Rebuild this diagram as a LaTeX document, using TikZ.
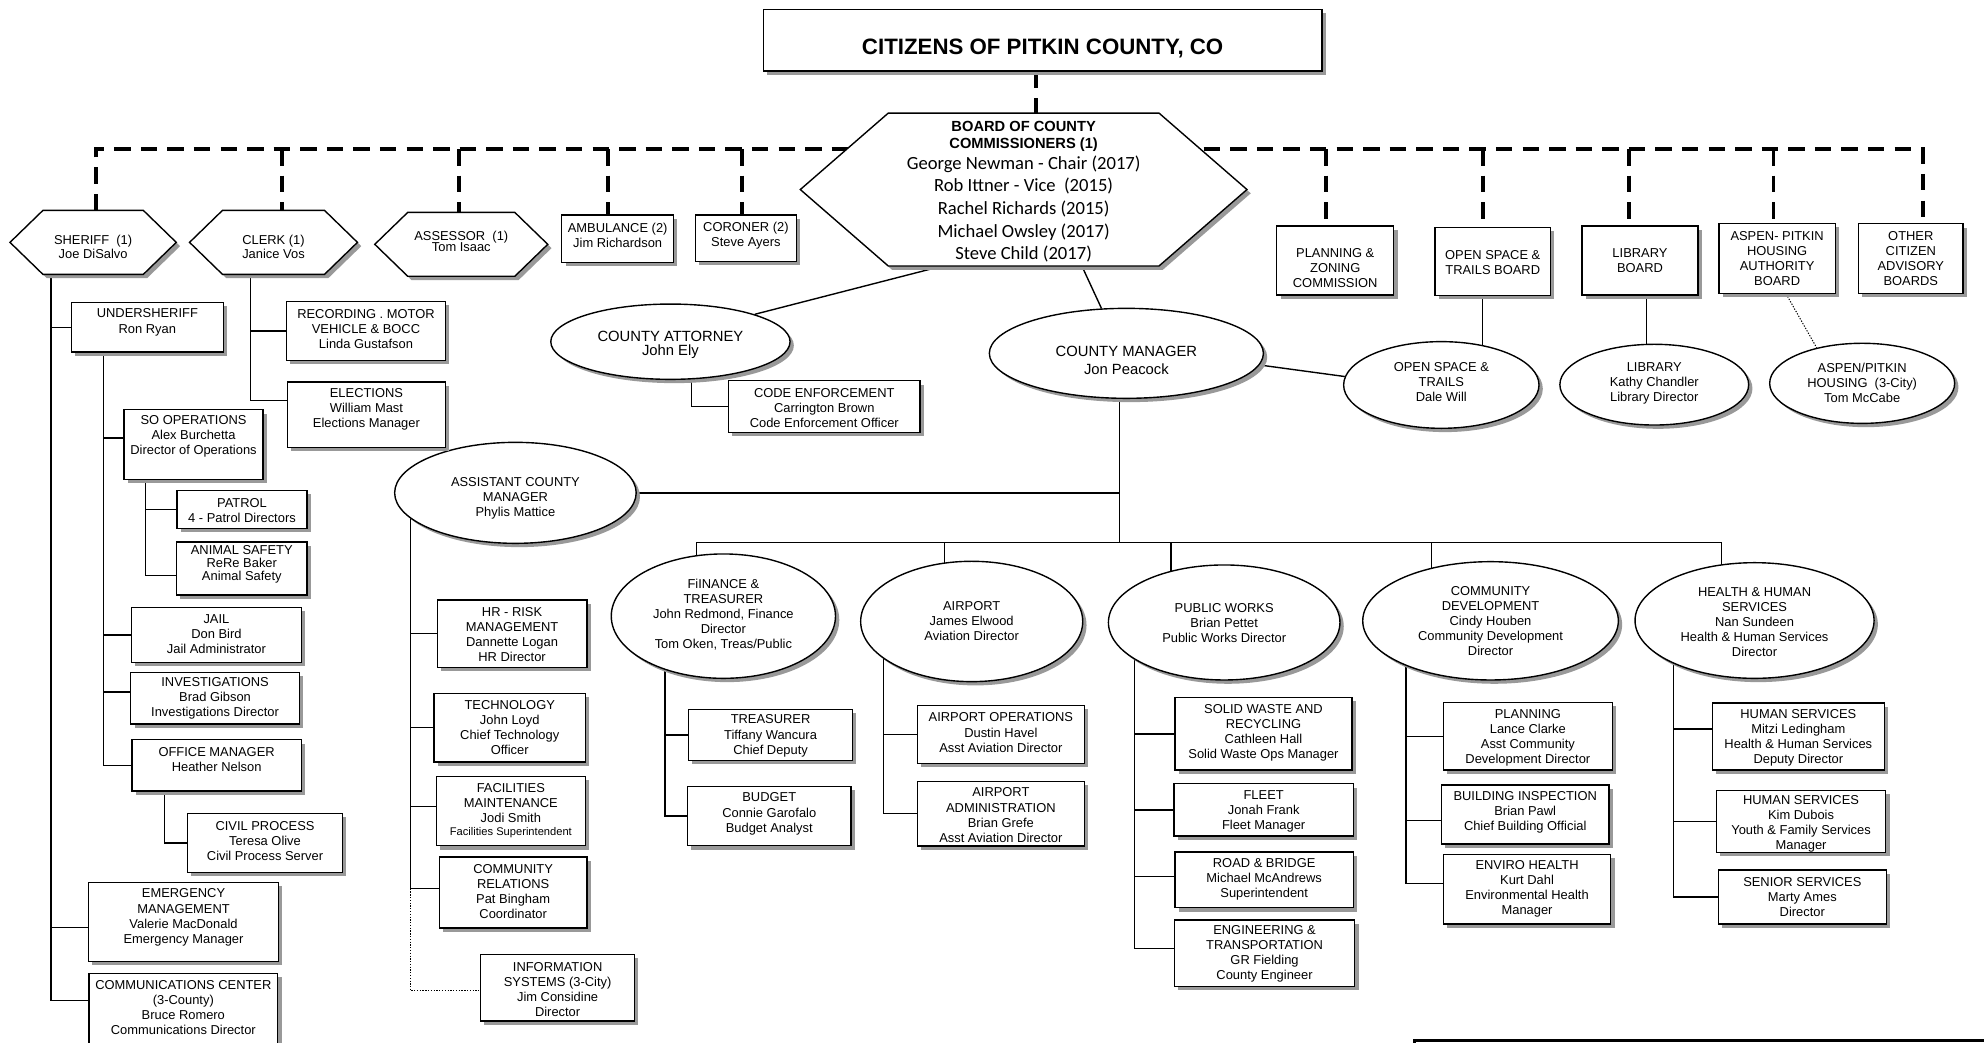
\documentclass[tikz,border=0pt]{standalone}
\usepackage{fontspec}
\setmainfont{Liberation Sans}
\newfontfamily\carlito{Carlito}
\usetikzlibrary{shapes.geometric,shadows}
\pgfdeclarelayer{bg}
\pgfdeclarelayer{hexes}
\pgfsetlayers{bg,hexes,main}

\newcommand\onode[9][]{%
 \pgfmathsetmacro\obw{#5-#3}\pgfmathsetmacro\obh{#6-#4}%
 \pgfmathsetmacro\obcx{(#3+#5)/2}\pgfmathsetmacro\obcy{(#4+#6)/2}%
 \pgfmathsetmacro\obdy{\obcy-#7-#8}%
 \node[#1,minimum width=\obw pt,minimum height=\obh pt] (#2) at (\obcx,\obcy)
  {\makebox[0pt]{\raisebox{\obdy pt}[0pt][0pt]{\parbox{400pt}{\centering\lineskiplimit=-20pt\relax #9\par}}}};}

\newcommand\ohex[8][]{%
 \onode[hexn,#1]{#2}{#3}{#4}{#5}{#6}{#7}{3.6}{#8}%
 \begin{pgfonlayer}{hexes}
 \draw[hexd] (#2.west) -- ([xshift=26pt]#2.north west) -- ([xshift=-26pt]#2.north east) -- (#2.east)
   -- ([xshift=-26pt]#2.south east) -- ([xshift=26pt]#2.south west) -- cycle;
 \end{pgfonlayer}}

\begin{document}
\begin{tikzpicture}[x=1pt,y=-1pt,
 shad/.style={drop shadow={shadow xshift=3pt,shadow yshift=-3pt,fill=black!40,opacity=1}},
 box/.style={rectangle,draw,fill=white,line width=1.1pt,inner sep=0pt,font={\fontsize{10.2}{12}\selectfont},shad},
 bs/.style={font={\fontsize{10.2}{#1}\selectfont}},
 ell/.style={box,ellipse},
 hexn/.style={rectangle,inner sep=0pt,font={\fontsize{10.2}{12}\selectfont}},
 hexd/.style={draw,fill=white,line width=1.1pt,shad},
 conn/.style={line width=1.1pt},
 dsh/.style={line width=3pt,dash pattern=on 13pt off 8pt},
 dotl/.style={line width=0.8pt,dash pattern=on 1pt off 1.2pt}]
\useasboundingbox (0,0) rectangle (1568,824);
\begin{pgfonlayer}{bg}
\fill[white] (0,0) rectangle (1568,824);
\end{pgfonlayer}

% ---------- top ----------
\onode[box,font={\fontsize{17.6}{21}\selectfont\bfseries}]{title}{603.2}{7.4}{1044.8}{56.1}{36.9}{5.7}{CITIZENS OF PITKIN COUNTY, CO}

\node[hexn,minimum width=352.6pt,minimum height=120.4pt,font={\fontsize{11.6}{13.7}\selectfont}] (bocc) at (809,149.8)
 {\makebox[0pt]{\raisebox{-4.7pt}[0pt][0pt]{\parbox{400pt}{\centering\lineskiplimit=-20pt\relax
 \bfseries BOARD OF COUNTY\\COMMISSIONERS (1)\par\vspace{-1.5pt}
 \carlito\mdseries\fontsize{14.7}{17.8}\selectfont George Newman - Chair (2017)\\Rob Ittner - Vice\ \ (2015)\\Rachel Richards (2015)\\Michael Owsley (2017)\\Steve Child (2017)\par}}}};
\begin{pgfonlayer}{hexes}
\draw[hexd] (bocc.west) -- ([xshift=69.5pt]bocc.north west) -- ([xshift=-69.5pt]bocc.north east) -- (bocc.east)
  -- ([xshift=-69.5pt]bocc.south east) -- ([xshift=69.5pt]bocc.south west) -- cycle;
\end{pgfonlayer}

\ohex[bs=11.3]{sheriff}{8.1}{166.5}{139.1}{216.6}{194.05}{SHERIFF\ \ (1)\\Joe DiSalvo}
\ohex[bs=11.3]{clerk}{150}{166.5}{282.3}{216.6}{193.75}{CLERK (1)\\Janice Vos}
\ohex[bs=8.7]{assessor}{296.4}{168.1}{432.7}{218.1}{190.05}{ASSESSOR\ \ (1)\\Tom Isaac}
\onode[box,bs=11.5]{amb}{444}{169.9}{532.3}{207.3}{184.95}{3.6}{AMBULANCE (2)\\Jim Richardson}
\onode[box,bs=11.5]{cor}{549.6}{169.9}{629.4}{206.8}{184.95}{3.6}{CORONER (2)\\Steve Ayers}

\onode[box,bs=11.85]{pz}{1009}{178.6}{1101.5}{233.1}{210.75}{3.6}{PLANNING \&\\ZONING\\COMMISSION}
\onode[box,bs=11.6]{osb}{1134}{179.7}{1225.5}{233.7}{206.5}{3.6}{OPEN SPACE \&\\TRAILS BOARD}
\onode[box,bs=11.9]{libb}{1250.2}{178.6}{1342}{233.1}{204.85}{3.6}{LIBRARY\\BOARD}
\onode[box,bs=11.8]{hab}{1358.6}{176.5}{1450.4}{231.8}{202.95}{3.6}{ASPEN- PITKIN\\HOUSING\\AUTHORITY\\BOARD}
\onode[box,bs=11.8]{other}{1468.9}{176.8}{1551.4}{231.8}{202.95}{3.6}{OTHER\\CITIZEN\\ADVISORY\\BOARDS}

% ---------- ellipses ----------
\onode[ell,font={\fontsize{11.7}{11.1}\selectfont}]{ca}{435.3}{240.3}{624.4}{299.8}{271.85}{4}{COUNTY ATTORNEY\\John Ely}
\onode[ell,font={\fontsize{11.7}{13.7}\selectfont}]{cm}{781.9}{243.7}{998.5}{314.8}{283.95}{4}{COUNTY MANAGER\\Jon Peacock}
\onode[ell,bs=11.85]{os}{1061.9}{270}{1216.3}{338.5}{300.85}{3.6}{OPEN SPACE \&\\TRAILS\\Dale Will}
\onode[ell,bs=11.85]{lib}{1232.8}{272.1}{1382}{335.9}{301.65}{3.6}{LIBRARY\\Kathy Chandler\\Library Director}
\onode[ell,bs=11.85]{hous}{1398.6}{271.3}{1544.8}{334.6}{301.65}{3.6}{ASPEN/PITKIN\\HOUSING\ \ (3-City)\\Tom McCabe}
\onode[ell,bs=11.85]{acm}{311.9}{349.6}{502.8}{429.4}{393.05}{3.6}{ASSISTANT COUNTY\\MANAGER\\Phylis Mattice}
\onode[ell,bs=11.85]{fin}{483.1}{437.8}{660.3}{536.1}{484.7}{3.6}{FiINANCE \&\\TREASURER\\John Redmond, Finance\\Director\\Tom Oken, Treas/Public}
\onode[ell,bs=12]{air}{680.2}{443.6}{855.7}{538.7}{489.6}{3.6}{AIRPORT\\James Elwood\\Aviation Director}
\onode[ell,bs=11.85]{pw}{876}{446.5}{1059}{537.4}{491.05}{3.6}{PUBLIC WORKS\\Brian Pettet\\Public Works Director}
\onode[ell,bs=11.9]{cd}{1077}{443.9}{1279}{537.4}{489.65}{3.6}{COMMUNITY\\DEVELOPMENT\\Cindy Houben\\Community Development\\Director}
\onode[ell,bs=11.9]{hhs}{1292.2}{444.7}{1481.1}{536.1}{490.55}{3.6}{HEALTH \& HUMAN\\SERVICES\\Nan Sundeen\\Health \& Human Services\\Director}

% ---------- sheriff / clerk ----------
\onode[box]{usher}{56.4}{239.2}{176.5}{278.2}{253.7}{3.6}{UNDERSHERIFF\\Ron Ryan}
\onode[box,bs=11.85]{rec}{226.3}{238.4}{352.2}{284.8}{258.95}{3.6}{RECORDING . MOTOR\\VEHICLE \& BOCC\\Linda Gustafson}
\onode[box,bs=11.85]{elec}{227}{301.9}{352.2}{353.5}{322.15}{3.6}{ELECTIONS\\William Mast\\Elections Manager}
\onode[box,bs=11.85]{soops}{98}{323.8}{207.9}{378.8}{344.05}{3.6}{SO OPERATIONS\\Alex Burchetta\\Director of Operations}
\onode[box,bs=11.8]{patrol}{139.9}{387.8}{242.6}{417.8}{402.1}{3.6}{PATROL\\4 - Patrol Directors}
\onode[box,bs=10.4]{animal}{139.6}{428.4}{242.6}{470.2}{445.1}{3.6}{ANIMAL SAFETY\\ReRe Baker\\Animal Safety}
\onode[box,bs=11.7]{jail}{104}{480}{238.1}{523.5}{499.9}{3.6}{JAIL\\Don Bird\\Jail Administrator}
\onode[box,bs=11.85]{inv}{103.3}{531.6}{236.6}{572.2}{551.15}{3.6}{INVESTIGATIONS\\Brad Gibson\\Investigations Director}
\onode[box]{office}{104.3}{584.6}{238.1}{625.2}{599.05}{3.6}{OFFICE MANAGER\\Heather Nelson}
\onode[box,bs=11.85]{civil}{148.3}{643}{270.6}{689.4}{663.35}{3.6}{CIVIL PROCESS\\Teresa Olive\\Civil Process Server}
\onode[box,bs=11.97]{emerg}{70.1}{697.3}{220}{760}{723.95}{3.6}{EMERGENCY\\MANAGEMENT\\Valerie MacDonald\\Emergency Manager}
\onode[box,bs=11.83]{comm}{70.3}{769.3}{219.5}{830}{794.95}{3.6}{COMMUNICATIONS CENTER\\(3-County)\\Bruce Romero\\Communications Director}

% ---------- attorney / ACM ----------
\onode[box,bs=11.85]{code}{575.7}{300.9}{727.2}{341.7}{321.45}{3.6}{CODE ENFORCEMENT\\Carrington Brown\\Code Enforcement Officer}
\onode[box,bs=11.87]{hr}{345.6}{474.2}{463.8}{527.4}{500.4}{3.6}{HR - RISK\\MANAGEMENT\\Dannette Logan\\HR Director}
\onode[box,bs=11.83]{tech}{343}{548}{462.7}{602.2}{573.65}{3.6}{TECHNOLOGY\\John Loyd\\Chief Technology\\Officer}
\onode[box,bs=11.9]{fac}{344.8}{613.8}{462.7}{668.4}{639.65}{3.6}{FACILITIES\\MAINTENANCE\\Jodi Smith\\[-1.1pt]{\fontsize{8.8}{10}\selectfont Facilities Superintendent}}
\onode[box,bs=11.87]{cr}{347.2}{677.3}{463.9}{733.4}{703.5}{3.6}{COMMUNITY\\RELATIONS\\Pat Bingham\\Coordinator}
\onode[box,bs=11.97]{info}{379.9}{754.5}{501.5}{807}{780.85}{3.6}{INFORMATION\\SYSTEMS (3-City)\\Jim Considine\\Director}

% ---------- departments ----------
\onode[box,bs=12]{treas}{544.1}{560.6}{673.9}{600.9}{580.5}{3.6}{TREASURER\\Tiffany Wancura\\Chief Deputy}
\onode[box]{budget}{543.2}{621.4}{672.7}{668.4}{642.1}{3.6}{BUDGET\\Connie Garofalo\\Budget Analyst}
\onode[box,bs=11.95]{airops}{725}{557.7}{857}{603.3}{577.85}{3.6}{AIRPORT OPERATIONS\\Dustin Havel\\Asst Aviation Director}
\onode[box,bs=11.93]{airadm}{725}{617.5}{857}{668.6}{643.1}{3.6}{AIRPORT\\ADMINISTRATION\\Brian Grefe\\Asst Aviation Director}
\onode[box,bs=11.83]{sw}{928.6}{551.4}{1068.5}{608.6}{577.85}{3.6}{SOLID WASTE AND\\RECYCLING\\Cathleen Hall\\Solid Waste Ops Manager}
\onode[box,bs=11.9]{fleet}{927.8}{619.4}{1069.6}{660.7}{639.9}{3.6}{FLEET\\Jonah Frank\\Fleet Manager}
\onode[box,bs=11.85]{rb}{928.6}{673.4}{1069.6}{717.4}{693.65}{3.6}{ROAD \& BRIDGE\\Michael McAndrews\\Superintendent}
\onode[box,bs=11.93]{et}{928.1}{727.1}{1070.7}{779.8}{752.9}{3.6}{ENGINEERING \&\\TRANSPORTATION\\GR Fielding\\County Engineer}
\onode[box,bs=12]{plan}{1140.7}{555.3}{1274.3}{608.6}{581.85}{3.6}{PLANNING\\Lance Clarke\\Asst Community\\Development Director}
\onode[box,bs=11.9]{bldg}{1139.1}{620.4}{1271.7}{667}{640.7}{3.6}{BUILDING INSPECTION\\Brian Pawl\\Chief Building Official}
\onode[box,bs=11.93]{env}{1140.7}{675.2}{1273}{730.3}{701.5}{3.6}{ENVIRO HEALTH\\Kurt Dahl\\Environmental Health\\Manager}
\onode[box,bs=11.87]{hs1}{1353.3}{555.6}{1489.2}{608.6}{581.8}{3.6}{HUMAN SERVICES\\Mitzi Ledingham\\Health \& Human Services\\Deputy Director}
\onode[box,bs=11.7]{hs2}{1356.5}{624.9}{1490.3}{673.6}{650.05}{3.6}{HUMAN SERVICES\\Kim Dubois\\Youth \& Family Services\\Manager}
\onode[box,bs=11.9]{senior}{1358}{687.6}{1490.8}{730.3}{707.9}{3.6}{SENIOR SERVICES\\Marty Ames\\Director}

\draw[line width=2.4pt] (1117.8,822) rectangle (1700,950);

% ---------- connectors ----------
\begin{pgfonlayer}{bg}
\coordinate (dT) at (818.8,0);
\coordinate (d1) at (75.8,117.8);
\coordinate (d2) at (222.6,117.8);
\coordinate (d3) at (362.9,117.8);
\coordinate (d4) at (480.7,117.8);
\coordinate (d5) at (586.7,117.8);
\coordinate (d6) at (1048.2,117.8);
\coordinate (d7) at (1171.8,117.8);
\coordinate (d8) at (1287.6,117.8);
\coordinate (d9) at (1401.6,117.8);
\coordinate (d10) at (1519.6,117.8);
\draw[dsh] (title.south -| dT) -- (bocc.north -| dT);
\draw[dsh] (sheriff.north -| d1) -- (d1) -- (d10) -- (other.north -| d10);
\draw[dsh] (d2) -- (d2 |- clerk.north);
\draw[dsh] (d3) -- (d3 |- assessor.north);
\draw[dsh] (d4) -- (d4 |- amb.north);
\draw[dsh] (d5) -- (d5 |- cor.north);
\draw[dsh] (d6) -- (d6 |- pz.north);
\draw[dsh] (d7) -- (d7 |- osb.north);
\draw[dsh] (d8) -- (d8 |- libb.north);
\draw[dsh] (d9) -- (d9 |- hab.north);

\draw[conn] ([xshift=-64pt]bocc.south) -- (ca.18);
\draw[conn] ([xshift=46pt]bocc.south) -- (cm.119);
\coordinate (cav) at (546.6,280);
\draw[conn] (cav) |- (code.west);
\draw[conn] (cm.-5) -- (os.175);
\coordinate (osv) at (1171.8,0);
\draw[conn] (osb.south -| osv) -- (os.center -| osv);
\coordinate (libv) at (1301.3,0);
\draw[conn] (libb.south -| libv) -- (lib.center -| libv);
\draw[dotl] ([xshift=7.1pt]hab.south) -- (hous.142);

\coordinate (bus) at (884.6,428.6);
\coordinate (busL) at (550.3,428.6);
\coordinate (busR) at (1360.7,428.6);
\coordinate (bAir) at (746.3,428.6);
\coordinate (bPW) at (925.5,428.6);
\coordinate (bCD) at (1131.5,428.6);
\draw[conn] (cm.center -| bus) -- (bus);
\draw[conn] (acm.east) -- (acm.east -| bus);
\draw[conn] (busL) -- (busR);
\draw[conn] (busL) -- (busL |- fin.center);
\draw[conn] (bAir) -- (bAir |- air.center);
\draw[conn] (bPW) -- (bPW |- pw.center);
\draw[conn] (bCD) -- (bCD |- cd.center);
\draw[conn] (busR) -- (busR |- hhs.center);

\coordinate (acmv) at (324.5,389.5);
\draw[conn] (acmv) |- (hr.west);
\draw[conn] (acmv) |- (tech.west);
\draw[conn] (acmv) |- ([yshift=3.6pt]fac.west);
\draw[conn] (acmv) |- ([yshift=3pt]cr.west);
\draw[dotl] ([yshift=3pt]acmv |- cr.west) |- ([yshift=-2.4pt]info.west);

\coordinate (finv) at (525.7,487);
\draw[conn] (finv) |- (treas.west);
\draw[conn] (finv) |- (budget.west);
\coordinate (airv) at (698.4,491);
\draw[conn] (airv) |- (airops.west);
\draw[conn] (airv) |- (airadm.west);
\coordinate (pwv) at (896.5,492);
\draw[conn] (pwv) |- (sw.west);
\draw[conn] (pwv) |- (fleet.west);
\draw[conn] (pwv) |- ([yshift=2.8pt]rb.west);
\draw[conn] (pwv) |- ([yshift=4pt]et.west);
\coordinate (cdv) at (1111.2,490);
\draw[conn] (cdv) |- (plan.west);
\draw[conn] (cdv) |- ([yshift=-4.9pt]bldg.west);
\draw[conn] (cdv) |- ([yshift=4.65pt]env.west);
\coordinate (hhsv) at (1322.5,490);
\draw[conn] (hhsv) |- ([yshift=6pt]hs1.west);
\draw[conn] (hhsv) |- (hs2.west);
\draw[conn] (hhsv) |- (senior.west);

\coordinate (shv) at (40.3,191.5);
\draw[conn] (shv) |- (usher.west);
\draw[conn] (shv) |- ([yshift=-4.5pt]emerg.west);
\draw[conn] (shv) |- ([yshift=8.75pt]comm.west);
\coordinate (usv) at (81.9,258.7);
\draw[conn] (usv) |- ([yshift=5.1pt]soops.west);
\draw[conn] (usv) |- (jail.west);
\draw[conn] (usv) |- ([yshift=5.1pt]inv.west);
\draw[conn] (usv) |- (office.west);
\coordinate (sov) at (115.1,351);
\draw[conn] (sov) |- (patrol.west);
\draw[conn] (sov) |- ([yshift=-5.7pt]animal.west);
\coordinate (omv) at (130.1,605);
\draw[conn] (omv) |- (civil.west);
\coordinate (clv) at (198,191.5);
\draw[conn] (clv) |- (rec.west);
\draw[conn] (clv) |- ([yshift=11.3pt]elec.west);
\end{pgfonlayer}
\end{tikzpicture}
\end{document}
